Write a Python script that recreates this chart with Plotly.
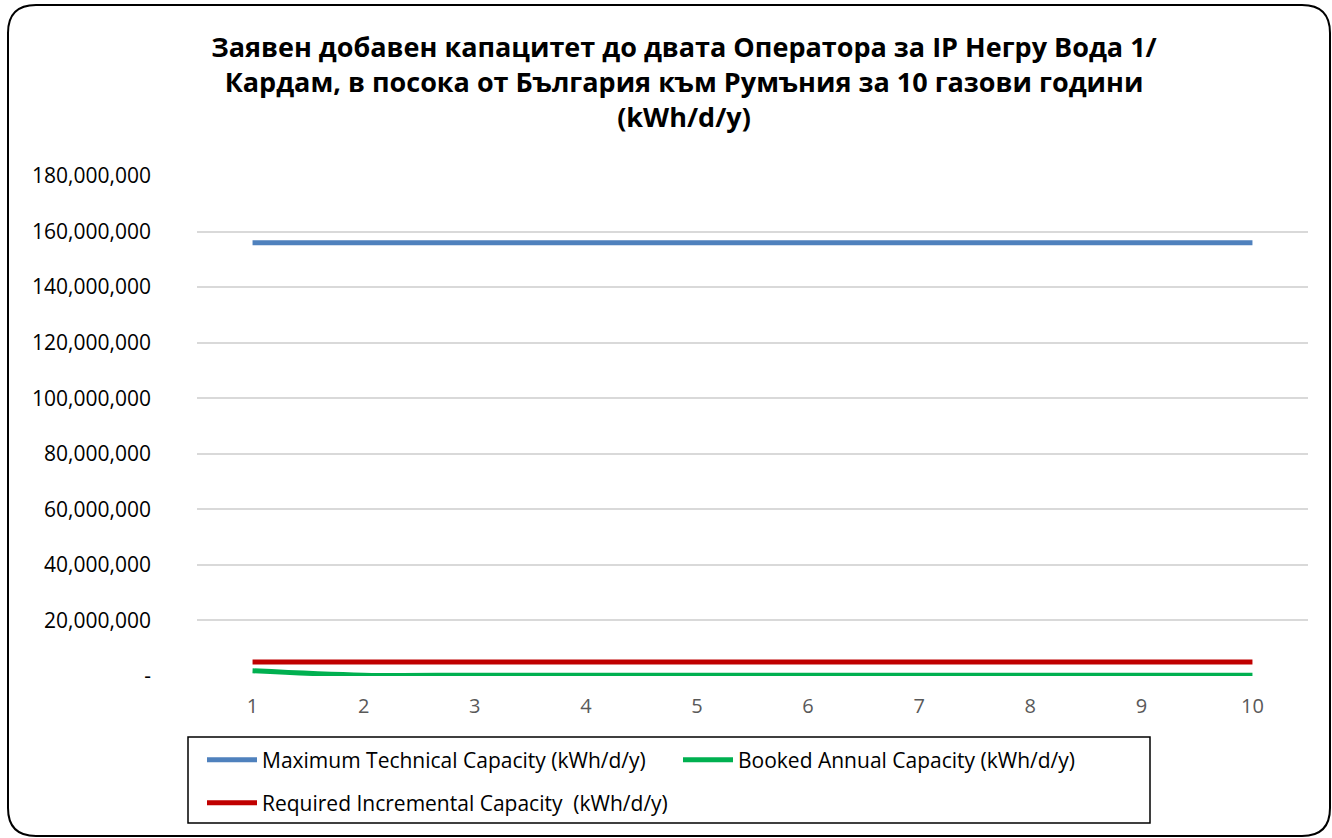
import plotly.graph_objects as go

years = [1, 2, 3, 4, 5, 6, 7, 8, 9, 10]
max_technical = [156000000] * 10
booked_annual = [1900000, 300000, 300000, 300000, 300000, 300000, 300000, 300000, 300000, 300000]
required_incremental = [5000000] * 10

y_tickvals = [0, 20000000, 40000000, 60000000, 80000000, 100000000, 120000000, 140000000, 160000000, 180000000]
y_ticktext = ["-", "20,000,000", "40,000,000", "60,000,000", "80,000,000", "100,000,000",
              "120,000,000", "140,000,000", "160,000,000", "180,000,000"]

title_text = ("Заявен добавен капацитет до двата Оператора за IP Негру Вода 1/<br>"
              "Кардам, в посока от България към Румъния за 10 газови години<br>(kWh/d/y)")

W, H = 1332, 838
L, R, T, B = 197, 24, 176, 162
PW, PH = W - L - R, H - T - B

def px(x):
    return (x - L) / PW

def py(y):
    return (H - B - y) / PH

FONT = "Open Sans, Noto Sans, sans-serif"

fig = go.Figure()
fig.add_trace(go.Scatter(x=years, y=max_technical, mode="lines",
                         name="Maximum Technical Capacity (kWh/d/y)",
                         line=dict(color="#4F81BD", width=5), legend="legend"))
fig.add_trace(go.Scatter(x=years, y=booked_annual, mode="lines",
                         name="Booked Annual Capacity (kWh/d/y)",
                         line=dict(color="#00B050", width=5, shape="spline"), legend="legend"))
fig.add_trace(go.Scatter(x=years, y=required_incremental, mode="lines",
                         name="Required Incremental Capacity  (kWh/d/y)",
                         line=dict(color="#C00000", width=5), legend="legend2"))

# rounded outer border
x0, x1, y0, y1 = px(8), px(1330), py(836), py(5)
rx, ry = 28 / PW, 28 / PH
border = (f"M {x0+rx},{y1} L {x1-rx},{y1} Q {x1},{y1} {x1},{y1-ry} "
          f"L {x1},{y0+ry} Q {x1},{y0} {x1-rx},{y0} L {x0+rx},{y0} "
          f"Q {x0},{y0} {x0},{y0+ry} L {x0},{y1-ry} Q {x0},{y1} {x0+rx},{y1} Z")

fig.update_layout(
    width=W, height=H,
    margin=dict(l=L, r=R, t=T, b=B),
    paper_bgcolor="white", plot_bgcolor="white",
    font=dict(family=FONT, color="#000000"),
    title=dict(text=title_text, x=684 / W, xanchor="center", y=1 - 57 / H, yanchor="middle",
               xref="container", yref="container",
               font=dict(family=FONT, size=27, color="#000000", weight="bold")),
    xaxis=dict(range=[0.5, 10.5], tickvals=years, ticktext=[str(v) for v in years],
               showgrid=False, zeroline=False, showline=False, ticks="",
               tickfont=dict(size=20, color="#595959"), ticklabelstandoff=16),
    yaxis=dict(range=[0, 180000000], tickvals=y_tickvals, ticktext=y_ticktext,
               showgrid=True, gridcolor="#D9D9D9", gridwidth=1.5, zeroline=False,
               showline=False, ticks="", tickfont=dict(size=21, color="#000000"),
               ticklabelstandoff=45),
    legend=dict(orientation="h", x=px(202), xanchor="left", y=py(760), yanchor="middle",
                font=dict(size=21, color="#000000"), entrywidth=411, entrywidthmode="pixels",
                bgcolor="rgba(0,0,0,0)", itemwidth=50),
    legend2=dict(orientation="h", x=px(202), xanchor="left", y=py(803), yanchor="middle",
                 font=dict(size=21, color="#000000"),
                 bgcolor="rgba(0,0,0,0)", itemwidth=50),
    shapes=[
        dict(type="path", path=border, xref="paper", yref="paper",
             line=dict(color="#000000", width=2), layer="below"),
        dict(type="rect", xref="paper", yref="paper", x0=px(188), x1=px(1150),
             y0=py(823), y1=py(737), line=dict(color="#000000", width=1.5)),
    ],
    showlegend=True,
)

fig.write_html("out.html", config={"displayModeBar": False},
               post_script="document.body.style.margin='0';")
